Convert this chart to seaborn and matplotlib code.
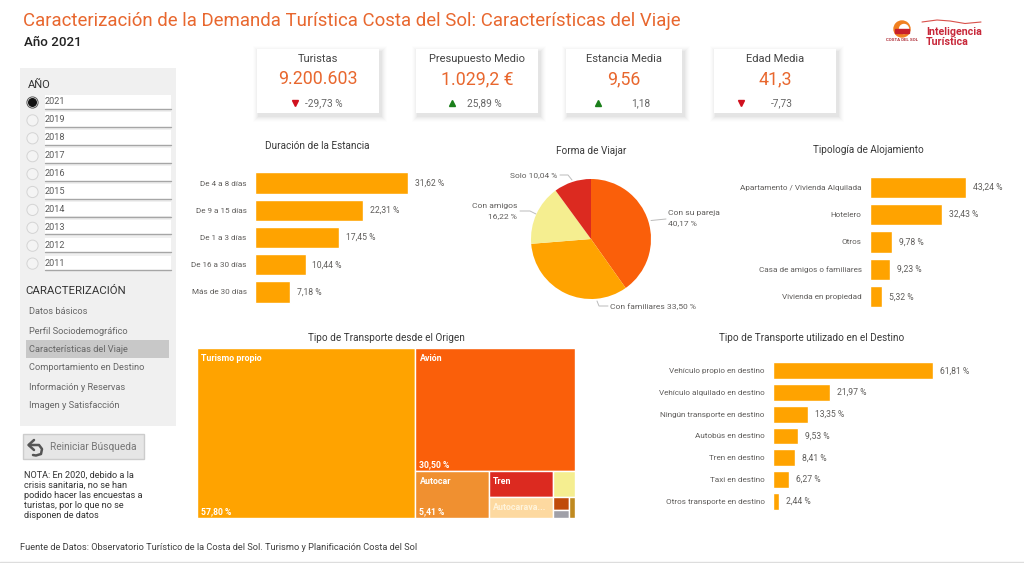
import matplotlib
matplotlib.use('Agg')
import matplotlib.pyplot as plt
from matplotlib.patches import Rectangle, Circle
import seaborn as sns

# Values
stay_labels = ['De 4 a 8 días', 'De 9 a 15 días', 'De 1 a 3 días', 'De 16 a 30 días', 'Más de 30 días']
stay_values = [31.62, 22.31, 17.45, 10.44, 7.18]

lodging_labels = ['Apartamento / Vivienda Alquilada', 'Hotelero', 'Otros', 'Casa de amigos o familiares', 'Vivienda en propiedad']
lodging_values = [43.24, 32.43, 9.78, 9.23, 5.32]

dest_labels = ['Vehículo propio en destino', 'Vehículo alquilado en destino', 'Ningún transporte en destino',
               'Autobús en destino', 'Tren en destino', 'Taxi en destino', 'Otros transporte en destino']
dest_values = [61.81, 21.97, 13.35, 9.53, 8.41, 6.27, 2.44]

pie_labels = ['Con su pareja', 'Con familiares', 'Con amigos', 'Solo']
pie_values = [40.17, 33.50, 16.22, 10.04]
pie_colors = ['#FA5F0A', '#FFA300', '#F5EE90', '#DC2A20']

# treemap leaves (the last ones are too small to carry a name in the original)
tree_values = [57.80, 30.50, 5.41, 2.60, 2.08, 0.89, 0.34, 0.19, 0.19]
tree_colors = ['#FFA300', '#FA5F0A', '#F09030', '#DC2A20', '#FDD9A0', '#F5EE90', '#C04A0A', '#A0A0A8', '#C08A20']

years = ['2021', '2019', '2018', '2017', '2016', '2015', '2014', '2013', '2012', '2011']
menu_items = ['Datos básicos', 'Perfil Sociodemográfico', 'Características del Viaje',
              'Comportamiento en Destino', 'Información y Reservas', 'Imagen y Satisfacción']

kpi_titles = ['Turistas', 'Presupuesto Medio', 'Estancia Media', 'Edad Media']
kpi_values = ['9.200.603', '1.029,2 €', '9,56', '41,3']
kpi_deltas = ['-29,73 %', '25,89 %', '1,18', '-7,73']
kpi_up = [False, True, True, False]

W, H = 1024, 563
ORANGE = '#FFA300'
TITLE_OR = '#E8672E'
GREY = '#605E5C'
DARK = '#3A3A3A'
FONT = 'Roboto'

sns.set_theme(style='white')
plt.rcParams['font.family'] = [FONT, 'DejaVu Sans']

fig = plt.figure(figsize=(W / 100, H / 100), dpi=100, facecolor='white')


def px_axes(x0, y0, x1, y1, **kw):
    return fig.add_axes([x0 / W, 1 - y1 / H, (x1 - x0) / W, (y1 - y0) / H], **kw)


# overlay in pixel coordinates for all the report furniture
bg = px_axes(0, 0, W, H, zorder=0)
bg.set_xlim(0, W)
bg.set_ylim(H, 0)
bg.axis('off')


def txt(x, y, s, size=6.6, color=GREY, ha='left', va='center', ax=bg, **kw):
    return ax.text(x, y, s, fontsize=size, color=color, ha=ha, va=va, **kw)


def fmt(v):
    return f'{v:.2f}'.replace('.', ',') + ' %'


def hbar(rect, labels, values, px_per_unit):
    x0, y0, x1, y1 = rect
    ax = px_axes(x0, y0, x1, y1, zorder=2)
    ax.patch.set_alpha(0)
    sns.barplot(x=values, y=labels, color=ORANGE, saturation=1, width=0.78, ax=ax)
    ax.set_xlim(0, (x1 - x0) / px_per_unit)
    ax.set_xlabel('')
    ax.set_ylabel('')
    ax.set_xticks([])
    ax.tick_params(axis='y', length=0, pad=6, labelsize=5.9, labelcolor=GREY)
    sns.despine(ax=ax, left=True, bottom=True)
    ax.bar_label(ax.containers[0], labels=[fmt(v) for v in values], padding=5, fontsize=6.2, color=GREY)
    return ax


# Header
txt(23, 21, 'Caracterización de la Demanda Turística Costa del Sol: Características del Viaje',
    size=13.4, color=TITLE_OR)
txt(24, 43, 'Año 2021', size=9.6, color='#222222', fontweight='medium')

# Logo, only roughly
bg.add_patch(Circle((902, 29), 8, color='#F08020'))
bg.add_patch(Circle((904, 29), 4.5, color='white'))
bg.add_patch(Rectangle((895, 29), 14, 3.5, color='#C8202A'))
txt(902, 40, 'COSTA DEL SOL', size=3.2, color='#B0303A', ha='center', fontweight='bold')
bg.plot([922, 937, 950, 965, 981], [22, 20, 21, 23.5, 22], color='#D8504A', lw=0.8)
txt(926, 32, 'Inteligencia', size=7.7, color='#C8283A', fontweight='bold')
txt(926, 42, 'Turística', size=7.7, color='#C8283A', fontweight='bold')

# Side panel
bg.add_patch(Rectangle((20, 68), 156, 358, color='#F0F0F0', lw=0))
txt(28, 85, 'AÑO', size=8, color='#333333')
for i, year in enumerate(years):
    yy = 102 + i * 17.9
    bg.add_patch(Rectangle((45, yy - 7.5), 126, 14.5, color='white', lw=0))
    bg.plot([45, 171], [yy + 7.2, yy + 7.2], color='#A6A6A6', lw=1)
    txt(45, yy, year, size=6.6, color='#5A5A5A')
    bg.add_patch(Circle((32.5, yy + 0.5), 5.6, fc='#F4F4F4', ec='#D4D4D4' if i else '#555555', lw=0.7))
    if i == 0:
        bg.add_patch(Circle((32.5, yy + 0.5), 3.8, color='#111111'))

txt(25, 291, 'CARACTERIZACIÓN', size=8.2, color='#333333')
bg.add_patch(Rectangle((26, 340), 142.5, 17.5, color='#C8C8C8', lw=0))
menu_y = [311, 331, 349, 368, 387, 406]
for item, yy in zip(menu_items, menu_y):
    txt(29, yy, item, size=6.7, color='#666666')

bg.add_patch(Rectangle((22.5, 434), 121, 24.5, fc='#E6E6E6', ec='#CCCCCC', lw=1))
bg.plot([29, 35, 39, 42, 41, 36, 33], [445, 445, 445, 449, 454, 455.5, 455], color='#555555', lw=1.8)
bg.plot([34, 28.5, 34], [440, 445, 450], color='#555555', lw=1.8)
txt(50, 447, 'Reiniciar Búsqueda', size=7.3, color='#777777')

note = ['NOTA: En 2020, debido a la', 'crisis sanitaria, no se han', 'podido hacer las encuestas a',
        'turistas, por lo que no se', 'disponen de datos']
for i, line in enumerate(note):
    txt(23.5, 475 + i * 10.1, line, size=6.6, color='#333333')

txt(20, 548, 'Fuente de Datos: Observatorio Turístico de la Costa del Sol. Turismo y Planificación Costa del Sol',
    size=6.7, color='#404040')
bg.plot([0, W], [562, 562], color='#DDDDDD', lw=1)

# KPI cards
card_x = [(257, 379), (416, 538), (566, 682), (714, 836)]
tri_x = [295, 452, 598, 741]
delta_x = [305, 467, 631, 771]
for (x0, x1), title, val, delta, up, tx, dx in zip(card_x, kpi_titles, kpi_values, kpi_deltas, kpi_up, tri_x, delta_x):
    for off, alpha in zip([6, 5, 4, 3, 2, 1], [0.008, 0.012, 0.016, 0.02, 0.024, 0.028]):
        bg.add_patch(Rectangle((x0 - off + 2, 49 - off + 3), x1 - x0 + 2 * off, 64 + 2 * off,
                               color='black', alpha=alpha, lw=0))
    bg.add_patch(Rectangle((x0, 49), x1 - x0, 64, color='white', lw=0))
    xc = (x0 + x1) / 2
    txt(xc, 58.5, title, size=8, color='#444444', ha='center')
    txt(xc, 79, val, size=12.8, color=TITLE_OR, ha='center')
    bg.plot([tx], [103], marker='^' if up else 'v', ms=5, color='#1A7F1A' if up else '#D0101E', lw=0)
    txt(dx, 103.5, delta, size=7.3, color='#666666')

# Section titles
section_titles = [(317, 146, 'Duración de la Estancia'), (591, 151, 'Forma de Viajar'),
                  (868, 150, 'Tipología de Alojamiento'), (386, 338, 'Tipo de Transporte desde el Origen'),
                  (812, 338, 'Tipo de Transporte utilizado en el Destino')]
for xc, yc, t in section_titles:
    txt(xc, yc, t, size=7.2, color=DARK, ha='center')

# Bars
hbar((255, 169.5, 470, 305.5), stay_labels, stay_values, 4.84)
hbar((870, 173.5, 1010, 310.5), lodging_labels, lodging_values, 2.22)
hbar((773, 360, 1010, 512), dest_labels, dest_values, 2.59)

# Pie
pie_ax = px_axes(528, 176, 654, 302, zorder=2)
pie_ax.pie(pie_values, colors=pie_colors, startangle=90, counterclock=False, radius=1.0,
           wedgeprops={'lw': 0})
pie_ax.set_xlim(-1.05, 1.05)
pie_ax.set_ylim(-1.05, 1.05)

txt(668, 213.5, pie_labels[0], size=6.1)
txt(668, 223.5, fmt(pie_values[0]), size=6.1)
bg.plot([651, 666], [220.5, 219], color='#BBBBBB', lw=0.7)
txt(610, 306.5, f'{pie_labels[1]} {fmt(pie_values[1])}', size=6.1)
bg.plot([597, 599, 608], [301, 306, 306], color='#BBBBBB', lw=0.7)
txt(517, 206, pie_labels[2], size=6.1, ha='right')
txt(517, 216, fmt(pie_values[2]), size=6.1, ha='right')
bg.plot([520, 530, 536], [211, 211, 214], color='#BBBBBB', lw=0.7)
txt(557.5, 175, f'{pie_labels[3]} {fmt(pie_values[3])}', size=6.0, ha='right')
bg.plot([560, 568, 572], [175, 175, 180], color='#BBBBBB', lw=0.7)


# Treemap, laid out from the values by slicing
def slice_rect(rect, weights, horizontal):
    x, y, w, h = rect
    total = sum(weights)
    out = []
    for v in weights:
        f = v / total
        if horizontal:
            out.append((x, y, w * f, h))
            x += w * f
        else:
            out.append((x, y, w, h * f))
            y += h * f
    return out


tv = tree_values
tree_ax = px_axes(197, 348, 575, 518, zorder=2)
tree_ax.set_xlim(0, 378)
tree_ax.set_ylim(170, 0)
tree_ax.axis('off')

big, rest = slice_rect((0, 0, 378, 170), [tv[0], sum(tv[1:])], True)
avion, lower = slice_rect(rest, [tv[1], sum(tv[2:])], False)
autocar, rest2 = slice_rect(lower, [tv[2], sum(tv[3:])], True)
mid, tail = slice_rect(rest2, [tv[3] + tv[4], sum(tv[5:])], True)
tren, caravana = slice_rect(mid, [tv[3], tv[4]], False)
yellow, tail2 = slice_rect(tail, [tv[5], sum(tv[6:])], False)
left_tail, small = slice_rect(tail2, [tv[6] + tv[7], tv[8]], True)
brown, grey_box = slice_rect(left_tail, [tv[6], tv[7]], False)
rects = [big, avion, autocar, tren, caravana, yellow, brown, grey_box, small]
for r, c in zip(rects, tree_colors):
    tree_ax.add_patch(Rectangle((r[0], r[1]), r[2], r[3], fc=c, ec='white', lw=1))


def tree_text(r, name, value=None, color='white'):
    if name:
        tree_ax.text(r[0] + 4, r[1] + 10.5, name, fontsize=6.4, color=color, va='center', fontweight='bold')
    if value is not None:
        tree_ax.text(r[0] + 4, r[1] + r[3] - 6, fmt(value), fontsize=6.2, color=color, va='center', fontweight='bold')


tree_text(big, 'Turismo propio', tv[0])
tree_text(avion, 'Avión', tv[1])
tree_text(autocar, 'Autocar', tv[2])
tree_text(tren, 'Tren')
tree_text(caravana, 'Autocarava...', color='#FFF4DC')

fig.savefig('out.png', dpi=100)
